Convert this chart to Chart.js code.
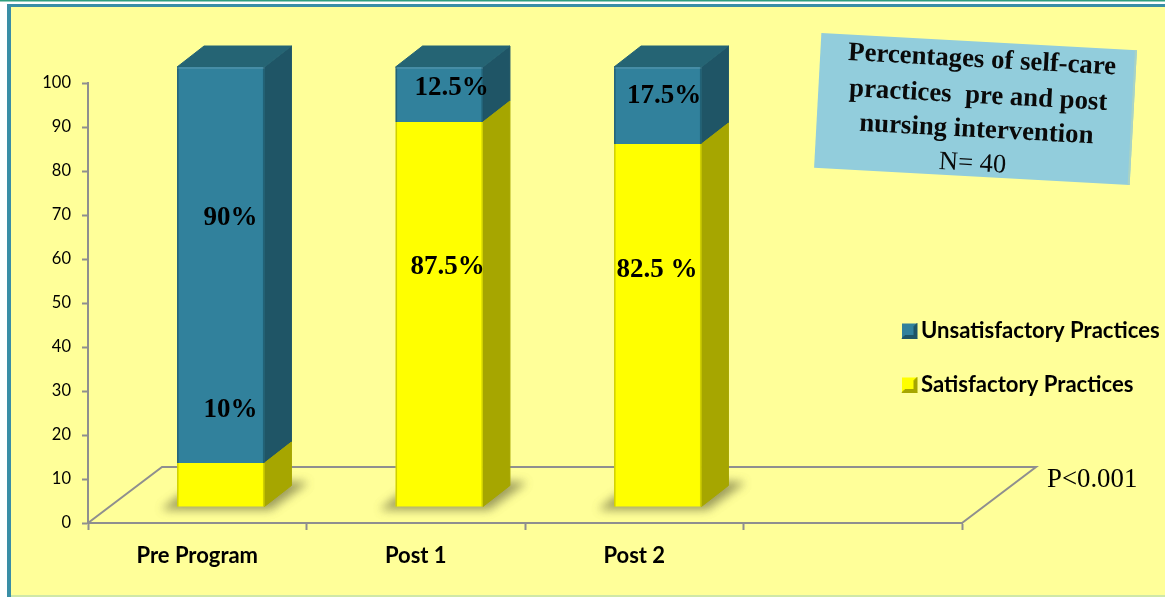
<!DOCTYPE html>
<html>
<head>
<meta charset="utf-8">
<style>
  html, body { margin: 0; padding: 0; background: #fff; }
  #wrap { position: relative; width: 1165px; height: 597px; overflow: hidden; }
  #wrap canvas { position: absolute; left: 0; top: 0; }
</style>
<script src="https://cdn.jsdelivr.net/npm/chart.js@4"></script>
</head>
<body>
<div id="wrap"><canvas id="grafico" width="1165" height="597"></canvas></div>
<script>
const categories = ['Pre Program', 'Post 1', 'Post 2', ''];
const satisfactory = [10, 87.5, 82.5, null];
const unsatisfactory = [90, 12.5, 17.5, null];
const satisfactoryLabels = ['10%', '87.5%', '82.5 %', ''];
const unsatisfactoryLabels = ['90%', '12.5%', '17.5%', ''];
const yTicks = [0, 10, 20, 30, 40, 50, 60, 70, 80, 90, 100];
const titleLines = ['Percentages of self-care', 'practices  pre and post', 'nursing intervention'];
const sampleLine = 'N= 40';
const pValue = 'P<0.001';

// desplazamiento de las barras y del piso para simular el 3D
const BAR_DX = 23.5, BAR_DY = -16;
const SIDE_DX = 27, SIDE_DY = -21;
const FLOOR_DX = 74, FLOOR_DY = -56;

const GRAY = '#8f8f8f';
const looks = {
  Satisfactory: { front: '#ffff00', side: '#a6a600', edge: 'rgba(120,120,0,0.35)' },
  Unsatisfactory: { front: '#31819c', side: '#1f5566', top: '#256474', edge: 'rgba(15,60,75,0.45)' }
};

function poly(ctx, pts, fill) {
  ctx.beginPath();
  pts.forEach((p, i) => i ? ctx.lineTo(p[0], p[1]) : ctx.moveTo(p[0], p[1]));
  ctx.closePath();
  ctx.fillStyle = fill;
  ctx.fill();
  ctx.strokeStyle = fill;
  ctx.lineWidth = 1;
  ctx.lineJoin = 'round';
  ctx.stroke();
}

const depth3d = {
  id: 'depth3d',
  beforeDatasetsDraw(chart) {
    const { ctx, chartArea: a } = chart;
    // piso
    ctx.save();
    ctx.strokeStyle = GRAY;
    ctx.lineWidth = 2;
    ctx.beginPath();
    ctx.moveTo(a.left, a.bottom);
    ctx.lineTo(a.left + FLOOR_DX, a.bottom + FLOOR_DY);
    ctx.lineTo(a.right + FLOOR_DX, a.bottom + FLOOR_DY);
    ctx.lineTo(a.right, a.bottom);
    ctx.stroke();
    // sombras de las barras
    chart.getDatasetMeta(0).data.forEach((bar, i) => {
      if (satisfactory[i] == null) return;
      const l = bar.x - bar.width / 2 + BAR_DX;
      const r = l + bar.width;
      const y = chart.scales.y.getPixelForValue(0) + BAR_DY;
      ctx.save();
      ctx.filter = 'blur(5px)';
      poly(ctx, [[l - 14, y + 2], [r + 6, y + 2], [r + 42, y - 24], [r + 22, y - 25], [l + 4, y - 12]], 'rgba(90,90,50,0.6)');
      ctx.restore();
    });
    ctx.restore();
  },
  beforeDatasetDraw(chart, args) {
    const { ctx } = chart;
    ctx.save();
    ctx.translate(BAR_DX, BAR_DY);
    const ds = chart.data.datasets[args.index];
    const look = looks[ds.look];
    args.meta.data.forEach((bar, i) => {
      if (ds.data[i] == null) return;
      const r = bar.x + bar.width / 2, l = bar.x - bar.width / 2;
      poly(ctx, [[r, bar.y], [r + SIDE_DX, bar.y + SIDE_DY], [r + SIDE_DX, bar.base + SIDE_DY], [r, bar.base]], look.side);
      if (look.top) {
        poly(ctx, [[l, bar.y], [l + SIDE_DX, bar.y + SIDE_DY], [r + SIDE_DX, bar.y + SIDE_DY], [r, bar.y]], look.top);
      }
    });
  },
  afterDatasetDraw(chart, args) {
    const { ctx } = chart;
    const ds = chart.data.datasets[args.index];
    const look = looks[ds.look];
    args.meta.data.forEach((bar, i) => {
      if (ds.data[i] == null) return;
      const l = bar.x - bar.width / 2, r = bar.x + bar.width / 2;
      // bisel de la cara frontal
      ctx.fillStyle = look.edge;
      ctx.fillRect(l, bar.y, 1.5, bar.base - bar.y);
      ctx.fillRect(r - 1.5, bar.y, 1.5, bar.base - bar.y);
      if (look.top) {
        ctx.fillStyle = 'rgba(255,255,255,0.10)';
        ctx.fillRect(l, bar.y, bar.width, 2);
      }
    });
    ctx.restore();
  },
  afterDraw(chart) {
    const { ctx } = chart;
    ctx.save();
    // rótulos de porcentaje
    ctx.fillStyle = '#000';
    ctx.font = 'bold 27px "Liberation Serif"';
    ctx.textAlign = 'center';
    ctx.textBaseline = 'middle';
    const put = (txt, x, y) => ctx.fillText(txt, x, y);
    put(unsatisfactoryLabels[0], 230.5, 218.5);
    put(satisfactoryLabels[0], 230.5, 410.5);
    put(unsatisfactoryLabels[1], 451.5, 88.5);
    put(satisfactoryLabels[1], 447.5, 267.5);
    put(unsatisfactoryLabels[2], 664, 96.5);
    put(satisfactoryLabels[2], 657, 270.5);
    ctx.font = '26.8px "Liberation Serif"';
    ctx.textAlign = 'left';
    ctx.fillText(pValue, 1047, 480);

    // leyenda
    const legendRows = [
      { label: 'Unsatisfactory Practices', look: looks.Unsatisfactory, y: 331 },
      { label: 'Satisfactory Practices', look: looks.Satisfactory, y: 385 }
    ];
    legendRows.forEach(row => {
      const bx = 902, by = row.y - 7.5, s = 15;
      ctx.fillStyle = row.look.front;
      ctx.fillRect(bx, by, s, s);
      poly(ctx, [[bx, by + s], [bx + s, by + s], [bx + s - 3, by + s - 3], [bx + 3, by + s - 3]], row.look.side);
      poly(ctx, [[bx + s, by], [bx + s, by + s], [bx + s - 3, by + s - 3], [bx + s - 3, by + 3]], row.look.side);
      ctx.fillStyle = '#000';
      ctx.font = 'bold 22.1px Lato';
      ctx.textAlign = 'left';
      ctx.textBaseline = 'middle';
      ctx.fillText(row.label, 921, row.y);
    });

    // recuadro del título, algo girado
    ctx.translate(975.5, 109);
    ctx.rotate(3.1 * Math.PI / 180);
    ctx.fillStyle = '#92cddc';
    ctx.fillRect(-158, -67.5, 316, 135);
    ctx.fillStyle = '#a9d3c4';
    ctx.fillRect(156, -67.5, 2, 135);
    ctx.fillStyle = '#0a0a0a';
    ctx.textAlign = 'center';
    ctx.font = 'bold 26.8px "Liberation Serif"';
    ctx.fillText(titleLines[0], 4, -49);
    ctx.fillText(titleLines[1], 2, -13);
    ctx.fillText(titleLines[2], 2, 21);
    ctx.font = '26.5px "Liberation Serif"';
    ctx.fillText(sampleLine, 0, 55);
    ctx.restore();
  }
};

const ctx = document.getElementById('grafico').getContext('2d');

const data = {
  labels: categories,
  datasets: [
    { label: 'Satisfactory Practices', look: 'Satisfactory', data: satisfactory, backgroundColor: looks.Satisfactory.front, clip: false },
    { label: 'Unsatisfactory Practices', look: 'Unsatisfactory', data: unsatisfactory, backgroundColor: looks.Unsatisfactory.front, clip: false }
  ]
};

const options = {
  responsive: false,
  animation: false,
  layout: { padding: { top: 83, right: 203, left: 0, bottom: 0 } },
  plugins: {
    legend: { display: false },
    tooltip: { enabled: false }
  },
  datasets: { bar: { categoryPercentage: 1, barPercentage: 0.4 } },
  scales: {
    x: {
      stacked: true,
      afterFit: s => { s.height = 74; },
      grid: { drawOnChartArea: false, color: GRAY, tickLength: 7, tickWidth: 2, tickColor: GRAY },
      border: { color: GRAY, width: 2 },
      ticks: { color: '#000', padding: 13, maxRotation: 0, font: { family: 'Lato', size: 22, weight: 'bold' } }
    },
    y: {
      stacked: true,
      min: 0,
      max: 100,
      afterFit: s => { s.width = 88; },
      afterBuildTicks: s => { s.ticks = yTicks.map(v => ({ value: v })); },
      grid: { drawOnChartArea: false, color: GRAY, tickLength: 6, tickWidth: 2, tickColor: GRAY },
      border: { color: GRAY, width: 2 },
      ticks: { color: '#000', padding: 11, font: { family: 'Lato', size: 16.5 } }
    }
  }
};

// fondo y marco de la figura
const frame = {
  id: 'frame',
  beforeDraw(chart) {
    const c = chart.ctx;
    c.save();
    c.fillStyle = '#ffffff';
    c.fillRect(0, 0, 1165, 597);
    c.fillStyle = '#2f9e7e';
    c.fillRect(0, 0, 1165, 1.5);
    c.fillStyle = '#3a8ea6';
    c.fillRect(7, 4, 1158, 593);
    c.fillStyle = '#ffff99';
    c.fillRect(11, 7, 1154, 588);
    c.fillStyle = '#cfe8a8';
    c.fillRect(11, 595, 1154, 2);
    c.restore();
  }
};

const myChart = new Chart(ctx, { type: 'bar', data: data, options: options, plugins: [frame, depth3d] });
</script>
</body>
</html>
